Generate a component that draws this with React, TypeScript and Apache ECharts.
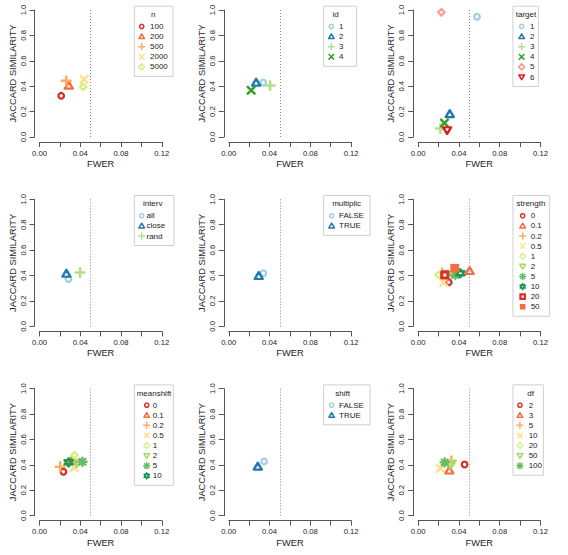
import React, { useEffect, useRef } from "react";
import * as echarts from "echarts";

// ---------- palettes ----------
const RDYLGN = ["#D73027", "#F46D43", "#FDAE61", "#FEE08B", "#D9EF8B", "#A6D96A", "#66BD63", "#1A9850"];
const PAIRED = ["#A6CEE3", "#1F78B4", "#B2DF8A", "#33A02C", "#FB9A99", "#E31A1C"];

// ---------- data ----------
const nLevels = ["100", "200", "500", "2000", "5000"];
const nFwer = [0.0213, 0.0288, 0.0262, 0.0438, 0.0428];
const nJaccard = [0.324, 0.408, 0.442, 0.453, 0.395];

const idLevels = ["1", "2", "3", "4"];
const idFwer = [0.0337, 0.0268, 0.0405, 0.0219];
const idJaccard = [0.429, 0.432, 0.405, 0.368];

const targetLevels = ["1", "2", "3", "4", "5", "6"];
const targetFwer = [0.0577, 0.031, 0.0218, 0.0258, 0.0228, 0.0284];
const targetJaccard = [0.947, 0.184, 0.066, 0.11, 0.982, 0.05];

const intervLevels = ["all", "close", "rand"];
const intervFwer = [0.0284, 0.0264, 0.0398];
const intervJaccard = [0.373, 0.418, 0.423];

const multiplicLevels = ["FALSE", "TRUE"];
const multiplicFwer = [0.0339, 0.0293];
const multiplicJaccard = [0.418, 0.4];

const strengthLevels = ["0", "0.1", "0.2", "0.5", "1", "2", "5", "10", "20", "50"];
const strengthFwer = [0.03, 0.0505, 0.0235, 0.0251, 0.0202, 0.033, 0.0365, 0.0414, 0.0261, 0.0359];
const strengthJaccard = [0.347, 0.439, 0.42, 0.347, 0.405, 0.41, 0.405, 0.418, 0.405, 0.457];

const meanshiftLevels = ["0", "0.1", "0.2", "0.5", "1", "2", "5", "10"];
const meanshiftFwer = [0.0235, 0.032, 0.0203, 0.034, 0.0343, 0.0366, 0.0422, 0.0285];
const meanshiftJaccard = [0.346, 0.44, 0.385, 0.38, 0.476, 0.41, 0.424, 0.42];

const shiftLevels = ["FALSE", "TRUE"];
const shiftFwer = [0.0346, 0.0284];
const shiftJaccard = [0.427, 0.39];

const dfLevels = ["2", "3", "5", "10", "20", "50", "100"];
const dfFwer = [0.0456, 0.0306, 0.0326, 0.0218, 0.0333, 0.0316, 0.026];
const dfJaccard = [0.403, 0.359, 0.432, 0.372, 0.41, 0.4, 0.419];

const X_TICK_LABELS = ["0.00", "0.04", "0.08", "0.12"];
const Y_TICK_LABELS = ["0.0", "0.2", "0.4", "0.6", "0.8", "1.0"];
const X_MIN = 0, X_MAX = 0.12, X_STEP = 0.02;
const Y_MIN = 0, Y_MAX = 1, Y_STEP = 0.2;
const FWER_LEVEL = 0.05;

const PANELS = [
  { title: "n", levels: nLevels, fwer: nFwer, jac: nJaccard, palette: RDYLGN },
  { title: "id", levels: idLevels, fwer: idFwer, jac: idJaccard, palette: PAIRED },
  { title: "target", levels: targetLevels, fwer: targetFwer, jac: targetJaccard, palette: PAIRED },
  { title: "interv", levels: intervLevels, fwer: intervFwer, jac: intervJaccard, palette: PAIRED },
  { title: "multiplic", levels: multiplicLevels, fwer: multiplicFwer, jac: multiplicJaccard, palette: PAIRED },
  { title: "strength", levels: strengthLevels, fwer: strengthFwer, jac: strengthJaccard, palette: RDYLGN },
  { title: "meanshift", levels: meanshiftLevels, fwer: meanshiftFwer, jac: meanshiftJaccard, palette: RDYLGN },
  { title: "shift", levels: shiftLevels, fwer: shiftFwer, jac: shiftJaccard, palette: PAIRED },
  { title: "df", levels: dfLevels, fwer: dfFwer, jac: dfJaccard, palette: RDYLGN },
];

// ---------- layout / style ----------
const CELL = 189.33;
const PLOT_LEFT = 39.5, PLOT_TOP = 10, PLOT_W = 122.3, PLOT_H = 127;
const FONT = "Liberation Sans, Arial, Helvetica, sans-serif";
const AXIS_COLOR = "#555";
const TEXT_COLOR = "#222";

const LEGEND_LAYOUT = [
  { boxRight: 173, titleX: 153.3, symX: 141.7, textX: 150 },
  { boxRight: 167.3, titleX: 146.3, symX: 142, textX: 149.7 },
  { boxRight: 159.7, titleX: 147.3, symX: 143, textX: 151.3 },
  { boxRight: 174, titleX: 152.7, symX: 141.7, textX: 146.5 },
  { boxRight: 180.7, titleX: 157.3, symX: 142.3, textX: 149.7 },
  { boxRight: 170.7, titleX: 152.3, symX: 144, textX: 152 },
  { boxRight: 173.3, titleX: 154, symX: 146.7, textX: 152.7 },
  { boxRight: 180.7, titleX: 153.3, symX: 142.3, textX: 149.7 },
  { boxRight: 164.7, titleX: 152, symX: 141.3, textX: 150 },
];
const LEG_LEFT = 134.3, LEG_TOP = 6.2, LEG_TITLE_Y = 14.5, LEG_FIRST = 26.5, LEG_STEP = 10.1;

const ASTERISK = "path://M10,0L10,20M0,10L20,10M2.93,2.93L17.07,17.07M17.07,2.93L2.93,17.07";
const SYMBOLS: any[] = [
  { symbol: "circle", size: 5.6, bw: 2.3 },
  { symbol: "triangle", size: [8, 6.9], bw: 2.3 },
  { symbol: "path://M10,0L10,20M0,10L20,10", size: 8.8, bw: 2.5 },
  { symbol: "path://M0,0L20,20M20,0L0,20", size: 6.8, bw: 2.5 },
  { symbol: "diamond", size: 6.6, bw: 2.3 },
  { symbol: "triangle", size: [8, 6.9], bw: 2.3, rotate: 180 },
  { symbol: ASTERISK, size: 8.4, bw: 2.3 },
  { symbol: "path://M10,0L18.66,15L1.34,15ZM10,20L1.34,5L18.66,5Z", size: 8.4, bw: 2.2 },
  { symbol: "rect", size: 6.2, bw: 3 },
  { symbol: "rect", size: 8.8, bw: 0, filled: true },
];

function ln(x1: number, y1: number, x2: number, y2: number, c: string, w: number) {
  return { type: "line", shape: { x1, y1, x2, y2 }, style: { stroke: c, lineWidth: w, lineCap: "round" } };
}

function legendIcon(k: number, c: string, cx: number, cy: number): any[] {
  const lw = 1.5;
  const st = { fill: "none", stroke: c, lineWidth: lw, lineJoin: "round" };
  switch (k) {
    case 0:
      return [{ type: "circle", shape: { cx, cy, r: 2.1 }, style: st }];
    case 1:
      return [{ type: "polygon", shape: { points: [[cx, cy - 2.7], [cx + 2.8, cy + 2], [cx - 2.8, cy + 2]] }, style: st }];
    case 2:
      return [ln(cx - 3, cy, cx + 3, cy, c, lw), ln(cx, cy - 3, cx, cy + 3, c, lw)];
    case 3:
      return [ln(cx - 2.3, cy - 2.3, cx + 2.3, cy + 2.3, c, lw), ln(cx + 2.3, cy - 2.3, cx - 2.3, cy + 2.3, c, lw)];
    case 4:
      return [{ type: "polygon", shape: { points: [[cx, cy - 3], [cx + 3, cy], [cx, cy + 3], [cx - 3, cy]] }, style: st }];
    case 5:
      return [{ type: "polygon", shape: { points: [[cx, cy + 2.7], [cx + 2.8, cy - 2], [cx - 2.8, cy - 2]] }, style: st }];
    case 6:
      return [
        ln(cx - 3, cy, cx + 3, cy, c, lw), ln(cx, cy - 3, cx, cy + 3, c, lw),
        ln(cx - 2.1, cy - 2.1, cx + 2.1, cy + 2.1, c, lw), ln(cx + 2.1, cy - 2.1, cx - 2.1, cy + 2.1, c, lw),
      ];
    case 7:
      return [
        { type: "polygon", shape: { points: [[cx, cy - 3], [cx + 2.6, cy + 1.5], [cx - 2.6, cy + 1.5]] }, style: st },
        { type: "polygon", shape: { points: [[cx, cy + 3], [cx + 2.6, cy - 1.5], [cx - 2.6, cy - 1.5]] }, style: st },
      ];
    case 8:
      return [{ type: "rect", shape: { x: cx - 2.2, y: cy - 2.2, width: 4.4, height: 4.4 }, style: { fill: "none", stroke: c, lineWidth: 2.2 } }];
    default:
      return [{ type: "rect", shape: { x: cx - 2.8, y: cy - 2.8, width: 5.6, height: 5.6 }, style: { fill: c } }];
  }
}

function buildOption() {
  const grid: any[] = [];
  const xAxis: any[] = [];
  const yAxis: any[] = [];
  const series: any[] = [];
  const graphic: any[] = [];

  PANELS.forEach((p, i) => {
    const ox = (i % 3) * CELL;
    const oy = Math.floor(i / 3) * CELL;
    grid.push({ left: ox + PLOT_LEFT, top: oy + PLOT_TOP, width: PLOT_W, height: PLOT_H });
    xAxis.push({
      type: "value", gridIndex: i, min: X_MIN, max: X_MAX, interval: X_STEP, offset: 5,
      axisLine: { show: true, onZero: false, lineStyle: { color: AXIS_COLOR, width: 1 } },
      axisTick: { show: true, length: 5, lineStyle: { color: AXIS_COLOR, width: 1 } },
      splitLine: { show: false },
      axisLabel: {
        margin: 7, fontSize: 7.7, fontFamily: FONT, color: TEXT_COLOR, showMaxLabel: true, showMinLabel: true,
        formatter: (v: number) => { const s = v.toFixed(2); return X_TICK_LABELS.includes(s) ? s : ""; },
      },
      name: "FWER", nameLocation: "middle", nameGap: 17.5,
      nameTextStyle: { fontSize: 9.3, fontFamily: FONT, color: TEXT_COLOR },
    });
    yAxis.push({
      type: "value", gridIndex: i, min: Y_MIN, max: Y_MAX, interval: Y_STEP, offset: 5,
      axisLine: { show: true, onZero: false, lineStyle: { color: AXIS_COLOR, width: 1 } },
      axisTick: { show: true, length: 5, lineStyle: { color: AXIS_COLOR, width: 1 } },
      splitLine: { show: false },
      axisLabel: {
        margin: 7.5, rotate: 90, fontSize: 7.7, fontFamily: FONT, color: TEXT_COLOR, showMaxLabel: true, showMinLabel: true,
        formatter: (v: number) => { const s = v.toFixed(1); return Y_TICK_LABELS.includes(s) ? s : ""; },
      },
      name: "JACCARD SIMILARITY", nameLocation: "middle", nameGap: 17.5, nameRotate: 90,
      nameTextStyle: { fontSize: 9.3, fontFamily: FONT, color: TEXT_COLOR },
    });

    p.levels.forEach((lvl, k) => {
      const sym = SYMBOLS[k];
      const color = p.palette[k % p.palette.length];
      const s: any = {
        type: "scatter", name: p.title + ":" + lvl, xAxisIndex: i, yAxisIndex: i,
        data: [[p.fwer[k], p.jac[k]]],
        symbol: sym.symbol, symbolSize: sym.size, symbolRotate: sym.rotate || 0,
        itemStyle: {
          color: sym.filled ? color : "transparent",
          borderColor: color, borderWidth: sym.bw, borderCap: "round", borderJoin: "round", opacity: 1,
        },
        emphasis: { disabled: true },
        silent: true,
      };
      if (k === 0) {
        s.markLine = {
          silent: true, symbol: "none", label: { show: false },
          lineStyle: { type: [1, 2], color: "#888", width: 1 },
          data: [{ xAxis: FWER_LEVEL }],
        };
      }
      series.push(s);
    });

    // legend
    const L = LEGEND_LAYOUT[i];
    const n = p.levels.length;
    const bottom = LEG_FIRST + (n - 1) * LEG_STEP + 9.5;
    graphic.push({
      type: "rect", shape: { x: ox + LEG_LEFT, y: oy + LEG_TOP, width: L.boxRight - LEG_LEFT, height: bottom - LEG_TOP },
      style: { fill: "#fff", stroke: "#cfcfcf", lineWidth: 1 }, z: 10,
    });
    graphic.push({
      type: "text", x: ox + L.titleX, y: oy + LEG_TITLE_Y, z: 11,
      style: {
        text: p.title, fill: TEXT_COLOR, font: "8px " + FONT,
        align: "center", verticalAlign: "middle", textAlign: "center", textVerticalAlign: "middle",
      },
    });
    p.levels.forEach((lvl, k) => {
      const cy = oy + LEG_FIRST + k * LEG_STEP;
      legendIcon(k, p.palette[k % p.palette.length], ox + L.symX, cy).forEach((el) => {
        el.z = 11;
        graphic.push(el);
      });
      graphic.push({
        type: "text", x: ox + L.textX, y: cy, z: 11,
        style: {
          text: lvl, fill: TEXT_COLOR, font: "8px " + FONT,
          align: "left", verticalAlign: "middle", textAlign: "left", textVerticalAlign: "middle",
        },
      });
    });
  });

  return { animation: false, backgroundColor: "#fff", grid, xAxis, yAxis, series, graphic };
}

export default function App() {
  const ref = useRef<HTMLDivElement>(null);
  useEffect(() => {
    if (!ref.current) return;
    const chart = echarts.init(ref.current, undefined, { renderer: "svg" });
    chart.setOption(buildOption() as any);
    return () => chart.dispose();
  }, []);
  return <div ref={ref} style={{ position: "absolute", left: 0, top: 0, width: 568, height: 555 }} />;
}
